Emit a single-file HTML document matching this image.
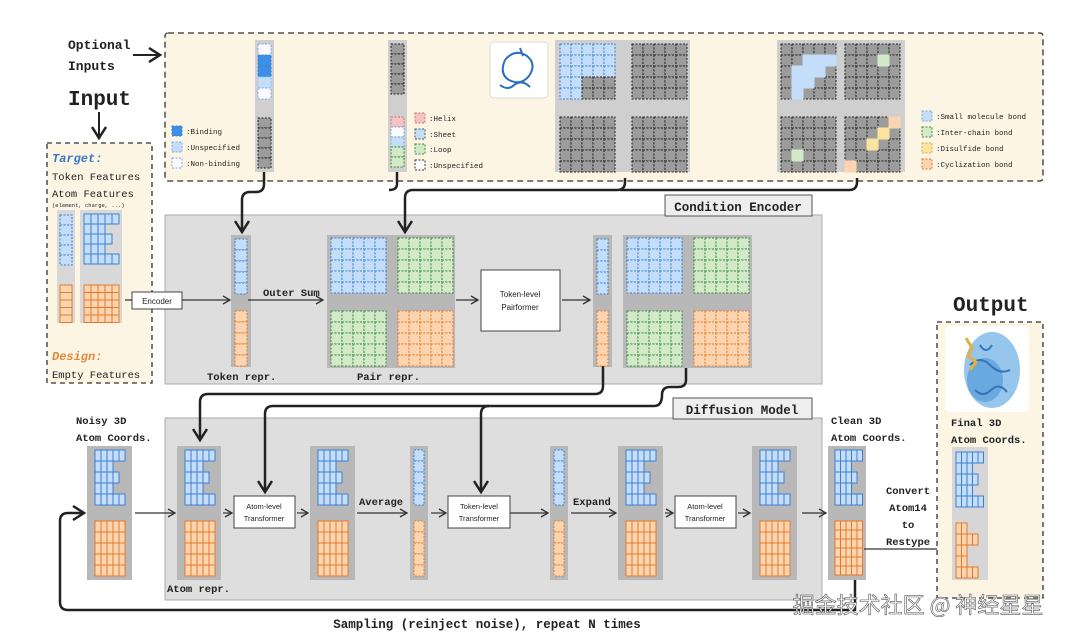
<!DOCTYPE html>
<html><head><meta charset="utf-8"><style>
html,body{margin:0;padding:0;background:#fff;width:1080px;height:641px;overflow:hidden}
svg{display:block}
text{font-family:"Liberation Mono",monospace;fill:#222}
.b{font-weight:bold}
.s{font-family:"Liberation Sans",sans-serif}
</style></head><body>
<svg id="s" width="1080" height="641" viewBox="0 0 1080 641" xmlns="http://www.w3.org/2000/svg">
<defs>
<marker id="ah" markerWidth="10" markerHeight="10" refX="8" refY="5" orient="auto" markerUnits="userSpaceOnUse"><path d="M1,1 L8,5 L1,9" fill="none" stroke="#333" stroke-width="1.3"/></marker>
<marker id="ahb" markerWidth="16" markerHeight="16" refX="13" refY="8" orient="auto" markerUnits="userSpaceOnUse"><path d="M2,1 L13,8 L2,15" fill="none" stroke="#222" stroke-width="2.5"/></marker>
</defs>
<rect x="165" y="33" width="878" height="148" rx="3" fill="#fdf5e4" stroke="#333" stroke-width="1.3" stroke-dasharray="6,4"/>
<text x="68" y="49" class="b" font-size="13">Optional</text>
<text x="68" y="70" class="b" font-size="13">Inputs</text>
<path d="M133,55 L160,55" stroke="#222" stroke-width="2" fill="none" marker-end="url(#ahb)"/>
<text x="68" y="105" class="b" font-size="21">Input</text>
<path d="M99,112 L99,138" stroke="#222" stroke-width="2" fill="none" marker-end="url(#ahb)"/>
<rect x="47" y="143" width="105" height="240" fill="#fdf5e4" stroke="#333" stroke-width="1.3" stroke-dasharray="5,4"/>
<text x="52" y="162" class="b" font-size="12" font-style="italic" style="fill:#3a78c8">Target:</text>
<text x="52" y="180" font-size="10.5">Token Features</text>
<text x="52" y="197" font-size="10.5">Atom Features</text>
<text x="52" y="207" font-size="5.5">(element, charge, ...)</text>
<text x="52" y="360" class="b" font-size="12" font-style="italic" style="fill:#e08a3a">Design:</text>
<text x="52" y="378" font-size="10.5">Empty Features</text>
<rect x="57" y="210" width="18" height="113" fill="#d8d8d8"/>
<rect x="80" y="210" width="42" height="113" fill="#d8d8d8"/>
<rect x="165" y="215" width="657" height="169" fill="#dedede" stroke="#aaa" stroke-width="1"/>
<rect x="665" y="195" width="147" height="21" fill="#eee" stroke="#555" stroke-width="1"/>
<text x="738" y="211" class="b" font-size="12.5" text-anchor="middle">Condition Encoder</text>
<rect x="132" y="292" width="50" height="17" fill="#fff" stroke="#444"/>
<text x="157" y="304" class="s" font-size="8" text-anchor="middle">Encoder</text>
<path d="M125,300 L132,300 M182,300 L230,300" stroke="#333" stroke-width="1.2" fill="none" marker-end="url(#ah)"/>
<rect x="231" y="235" width="20" height="132" fill="#b8b8b8"/>
<text x="207" y="380" class="b" font-size="10.5">Token repr.</text>
<text x="263" y="296" class="b" font-size="10.5">Outer Sum</text>
<path d="M248,300 L323,300" stroke="#333" stroke-width="1.2" fill="none" marker-end="url(#ah)"/>
<rect x="327" y="235" width="128" height="133" fill="#b8b8b8"/>
<text x="357" y="380" class="b" font-size="10.5">Pair repr.</text>
<path d="M456,300 L478,300" stroke="#333" stroke-width="1.2" fill="none" marker-end="url(#ah)"/>
<rect x="481" y="270" width="79" height="61" fill="#fff" stroke="#444"/>
<text x="520" y="297" class="s" font-size="8" text-anchor="middle">Token-level</text>
<text x="520" y="310" class="s" font-size="8" text-anchor="middle">Pairformer</text>
<path d="M562,300 L590,300" stroke="#333" stroke-width="1.2" fill="none" marker-end="url(#ah)"/>
<rect x="593" y="235" width="19" height="132" fill="#b8b8b8"/>
<rect x="623" y="235" width="129" height="133" fill="#b8b8b8"/>
<rect x="165" y="418" width="657" height="182" fill="#dedede" stroke="#aaa" stroke-width="1"/>
<rect x="673" y="398" width="139" height="21" fill="#eee" stroke="#555" stroke-width="1"/>
<text x="742" y="414" class="b" font-size="12.5" text-anchor="middle">Diffusion Model</text>
<text x="76" y="424" class="b" font-size="10.5">Noisy 3D</text>
<text x="76" y="441" class="b" font-size="10.5">Atom Coords.</text>
<rect x="87" y="446" width="45" height="134" fill="#b8b8b8"/>
<path d="M135,513 L175,513" stroke="#333" stroke-width="1.2" fill="none" marker-end="url(#ah)"/>
<rect x="177" y="446" width="44" height="134" fill="#b8b8b8"/>
<text x="167" y="592" class="b" font-size="10.5">Atom repr.</text>
<path d="M223,513 L232,513" stroke="#333" stroke-width="1.2" fill="none" marker-end="url(#ah)"/>
<rect x="234" y="496" width="61" height="32" fill="#fff" stroke="#444"/>
<text x="264" y="509" class="s" font-size="7.5" text-anchor="middle">Atom-level</text>
<text x="264" y="521" class="s" font-size="7.5" text-anchor="middle">Transformer</text>
<path d="M297,513 L308,513" stroke="#333" stroke-width="1.2" fill="none" marker-end="url(#ah)"/>
<rect x="310" y="446" width="45" height="134" fill="#b8b8b8"/>
<text x="359" y="505" class="b" font-size="10.5">Average</text>
<path d="M357,513 L407,513" stroke="#333" stroke-width="1.2" fill="none" marker-end="url(#ah)"/>
<rect x="410" y="446" width="18" height="134" fill="#b8b8b8"/>
<path d="M431,513 L446,513" stroke="#333" stroke-width="1.2" fill="none" marker-end="url(#ah)"/>
<rect x="448" y="496" width="62" height="32" fill="#fff" stroke="#444"/>
<text x="479" y="509" class="s" font-size="7.5" text-anchor="middle">Token-level</text>
<text x="479" y="521" class="s" font-size="7.5" text-anchor="middle">Transformer</text>
<path d="M510,513 L548,513" stroke="#333" stroke-width="1.2" fill="none" marker-end="url(#ah)"/>
<rect x="550" y="446" width="18" height="134" fill="#b8b8b8"/>
<text x="573" y="505" class="b" font-size="10.5">Expand</text>
<path d="M571,513 L616,513" stroke="#333" stroke-width="1.2" fill="none" marker-end="url(#ah)"/>
<rect x="618" y="446" width="45" height="134" fill="#b8b8b8"/>
<path d="M665,513 L673,513" stroke="#333" stroke-width="1.2" fill="none" marker-end="url(#ah)"/>
<rect x="675" y="496" width="61" height="32" fill="#fff" stroke="#444"/>
<text x="705" y="509" class="s" font-size="7.5" text-anchor="middle">Atom-level</text>
<text x="705" y="521" class="s" font-size="7.5" text-anchor="middle">Transformer</text>
<path d="M738,513 L750,513" stroke="#333" stroke-width="1.2" fill="none" marker-end="url(#ah)"/>
<rect x="752" y="446" width="45" height="134" fill="#b8b8b8"/>
<path d="M802,513 L826,513" stroke="#333" stroke-width="1.2" fill="none" marker-end="url(#ah)"/>
<text x="831" y="424" class="b" font-size="10.5">Clean 3D</text>
<text x="831" y="441" class="b" font-size="10.5">Atom Coords.</text>
<rect x="828" y="446" width="38" height="134" fill="#b8b8b8"/>
<text x="908" y="494" class="b" font-size="10.5" text-anchor="middle">Convert</text>
<text x="908" y="511" class="b" font-size="10.5" text-anchor="middle">Atom14</text>
<text x="908" y="528" class="b" font-size="10.5" text-anchor="middle">to</text>
<text x="908" y="545" class="b" font-size="10.5" text-anchor="middle">Restype</text>
<path d="M864,549 L950,549" stroke="#333" stroke-width="1.2" fill="none" marker-end="url(#ah)"/>
<text x="953" y="311" class="b" font-size="21">Output</text>
<rect x="937" y="322" width="106" height="276" fill="#fdf5e4" stroke="#333" stroke-width="1.3" stroke-dasharray="5,4"/>
<rect x="945" y="326" width="84" height="86" rx="4" fill="#fff"/>
<g opacity="0.9">
<ellipse cx="992" cy="370" rx="28" ry="38" fill="#8cc0ea"/>
<ellipse cx="985" cy="380" rx="18" ry="22" fill="#5aa0dc"/>
<path d="M970,365 q10,-10 20,0 t20,5 M975,390 q8,8 16,0 t16,2 M980,345 q6,10 12,0" stroke="#1e66b0" stroke-width="2" fill="none"/>
<path d="M966,338 l6,10 l-4,8 l8,6 l-6,8" stroke="#e2a92a" stroke-width="3" fill="none"/>
</g>
<text x="951" y="426" class="b" font-size="10.5">Final 3D</text>
<text x="951" y="443" class="b" font-size="10.5">Atom Coords.</text>
<rect x="952" y="447" width="36" height="133" fill="#d6d6d6"/>
<path d="M855,580 L855,610 L68,610 Q60,610 60,602 L60,521 Q60,513 68,513 L84,513" stroke="#222" stroke-width="2.5" fill="none" marker-end="url(#ahb)"/>
<text x="487" y="628" class="b" font-size="12.5" text-anchor="middle">Sampling (reinject noise), repeat N times</text>
<path d="M264,172 L264,184 Q264,192 256,192 L250,192 Q242,192 242,200 L242,232" stroke="#222" stroke-width="2.5" fill="none" marker-end="url(#ahb)"/>
<path d="M397,172 L397,184 Q397,190 389,190" stroke="#222" stroke-width="2.5" fill="none"/>
<path d="M625,178 L625,182 Q625,190 617,190 L413,190 Q405,190 405,198 L405,232" stroke="#222" stroke-width="2.5" fill="none" marker-end="url(#ahb)"/>
<path d="M857,178 L857,182 Q857,190 849,190 L620,190" stroke="#222" stroke-width="2.5" fill="none"/>
<path d="M603,366 L603,386 Q603,394 595,394 L208,394 Q200,394 200,402 L200,440" stroke="#222" stroke-width="2.5" fill="none" marker-end="url(#ahb)"/>
<path d="M686,368 L686,380 Q686,387 678,387 L670,387 Q662,387 662,395 Q662,406 654,406 L273,406 Q265,406 265,414 L265,492" stroke="#222" stroke-width="2.5" fill="none" marker-end="url(#ahb)"/>
<path d="M489,406 Q481,406 481,414 L481,492" stroke="#222" stroke-width="2.5" fill="none" marker-end="url(#ahb)"/>
<rect x="255" y="40" width="19" height="132" fill="#cfcfcf"/>
<rect x="388" y="40" width="19" height="132" fill="#cfcfcf"/>
<rect x="490" y="42" width="58" height="56" rx="4" fill="#fff" stroke="#ddd"/>
<path d="M505,60 q10,-12 22,-4 q10,8 2,20 q-8,10 -20,4 q-10,-6 -4,-20 M500,85 q8,6 14,0 q8,-6 16,2 M520,48 l3,8" stroke="#2a6fc0" stroke-width="2" fill="none"/>
<rect x="555" y="40" width="135" height="132" fill="#cfcfcf"/>
<rect x="777" y="40" width="128" height="132" fill="#cfcfcf"/>
<g id="g"></g>
<text x="918" y="613" font-size="22" class="s" style="fill:#fff;stroke:#555;stroke-width:0.6;font-family:'Noto Sans CJK SC',sans-serif" text-anchor="middle">掘金技术社区 @ 神经星星</text>
</svg>
<script>
var g=document.getElementById('g'),h='';
function c(x,y,w,hh,f,s,d){h+='<rect x="'+x+'" y="'+y+'" width="'+w+'" height="'+hh+'" fill="'+f+'" stroke="'+s+'" stroke-width="1"'+(d?' stroke-dasharray="2,1.5"':'')+'/>';}
var B=['#c4defa','#3d7fd0'],O=['#fcd5b0','#e27a2c'],G=['#d2eac8','#3e8a3e'],K=['#9c9c9c','#222'],W=['#fbfbff','#7aa9e0'];
function grid(x,y,cols,rows,cw,ch,p,d){for(var r=0;r<rows;r++)for(var k=0;k<cols;k++)c(x+k*cw,y+r*ch,cw,ch,p[0],p[1],d);}
function col(x,y,n,cw,ch,p,d){grid(x,y,1,n,cw,ch,p,d);}
function E(x,y,cw,ch,p){var w=[5,3,4,3,5];for(var r=0;r<5;r++)for(var k=0;k<w[r];k++)c(x+k*cw,y+r*ch,cw,ch,p[0],p[1]);}
col(60,215,5,12,10,B,1);E(84,214,7,10,B);col(60,285,5,12,7.5,O);grid(84,285,5,5,7,7.5,O);
col(235,239,5,12,11,B,1);col(235,311,5,12,11,O,1);
grid(331,238,5,5,11,11,B,1);grid(398,238,5,5,11,11,G,1);grid(331,311,5,5,11,11,G,1);grid(398,311,5,5,11,11,O,1);
col(597,239,5,11,11,B,1);col(597,311,5,11,11,O,1);
grid(627,238,5,5,11,11,B,1);grid(694,238,5,5,11,11,G,1);grid(627,311,5,5,11,11,G,1);grid(694,311,5,5,11,11,O,1);
[[95,1],[185,1],[318,1],[626,1],[760,1]].forEach(function(a){E(a[0],450,6,11,B);grid(a[0],521,5,5,6,11,O);});
E(835,450,5.5,11,B);grid(835,521,5,6,5.5,9,O);
col(414,450,5,10,11,B,1);col(414,521,5,10,11,O,1);col(554,450,5,10,11,B,1);col(554,521,5,10,11,O,1);
E(956,452,5.5,11,B);var fw=[2,4,2,2,4];for(var r=0;r<5;r++)for(var k=0;k<fw[r];k++)c(956+k*5.5,523+r*11,5.5,11,O[0],O[1]);
var c1=[W,['#3d8ee6','#3d7fd0'],['#3d8ee6','#3d7fd0'],['#c4defa','#9cc4f0'],W];for(var i=0;i<5;i++)c(258,44+i*11,13,11,c1[i][0],c1[i][1],1);
col(258,118,5,13,10,K,1);
col(391,44,5,13,10,K,1);
var c2=[['#f5c4c0','#c77'],W,['#c4defa','#7aa9e0'],G,G];for(i=0;i<5;i++)c(391,117+i*10,13,10,c2[i][0],c2[i][1],1);
grid(560,44,5,5,11,11,B,1);for(r=3;r<5;r++)for(k=2;k<5;k++)c(560+k*11,44+r*11,11,11,K[0],K[1],1);
grid(632,44,5,5,11,11,K,1);grid(560,117,5,5,11,11,K,1);grid(632,117,5,5,11,11,K,1);
grid(781,44,5,5,11,11,K,1);grid(845,44,5,5,11,11,K,1);grid(781,117,5,5,11,11,K,1);grid(845,117,5,5,11,11,K,1);
[[2,1],[3,1],[4,1],[1,2],[2,2],[3,2],[1,3],[1,4],[2,3]].forEach(function(a){c(781+a[0]*11,44+a[1]*11,11,11,'#c4defa','#c4defa');});
c(878,55,11,11,G[0],G[0]);c(792,150,11,11,G[0],G[0]);
[[4,0,'#fcd5b0'],[3,1,'#fbe3a0'],[2,2,'#fbe3a0'],[0,4,'#fcd5b0']].forEach(function(a){c(845+a[0]*11,117+a[1]*11,11,11,a[2],a[2]);});
function lg(x,y,p,t){c(x,y-8,10,10,p[0],p[1],1);h+='<text x="'+(x+14)+'" y="'+y+'" font-size="7.5">'+t+'</text>';}
lg(172,134,['#3d8ee6','#3d7fd0'],':Binding');lg(172,150,['#c4defa','#7aa9e0'],':Unspecified');lg(172,166,W,':Non-binding');
lg(415,121,['#f5c4c0','#c77'],':Helix');lg(415,137,['#c4defa','#555'],':Sheet');lg(415,152,G,':Loop');lg(415,168,['#fff','#333'],':Unspecified');
lg(922,119,['#c4defa','#7aa9e0'],':Small molecule bond');lg(922,135,G,':Inter-chain bond');lg(922,151,['#fbe3a0','#d9b040'],':Disulfide bond');lg(922,167,O,':Cyclization bond');
g.innerHTML=h;
</script>
</body></html>
